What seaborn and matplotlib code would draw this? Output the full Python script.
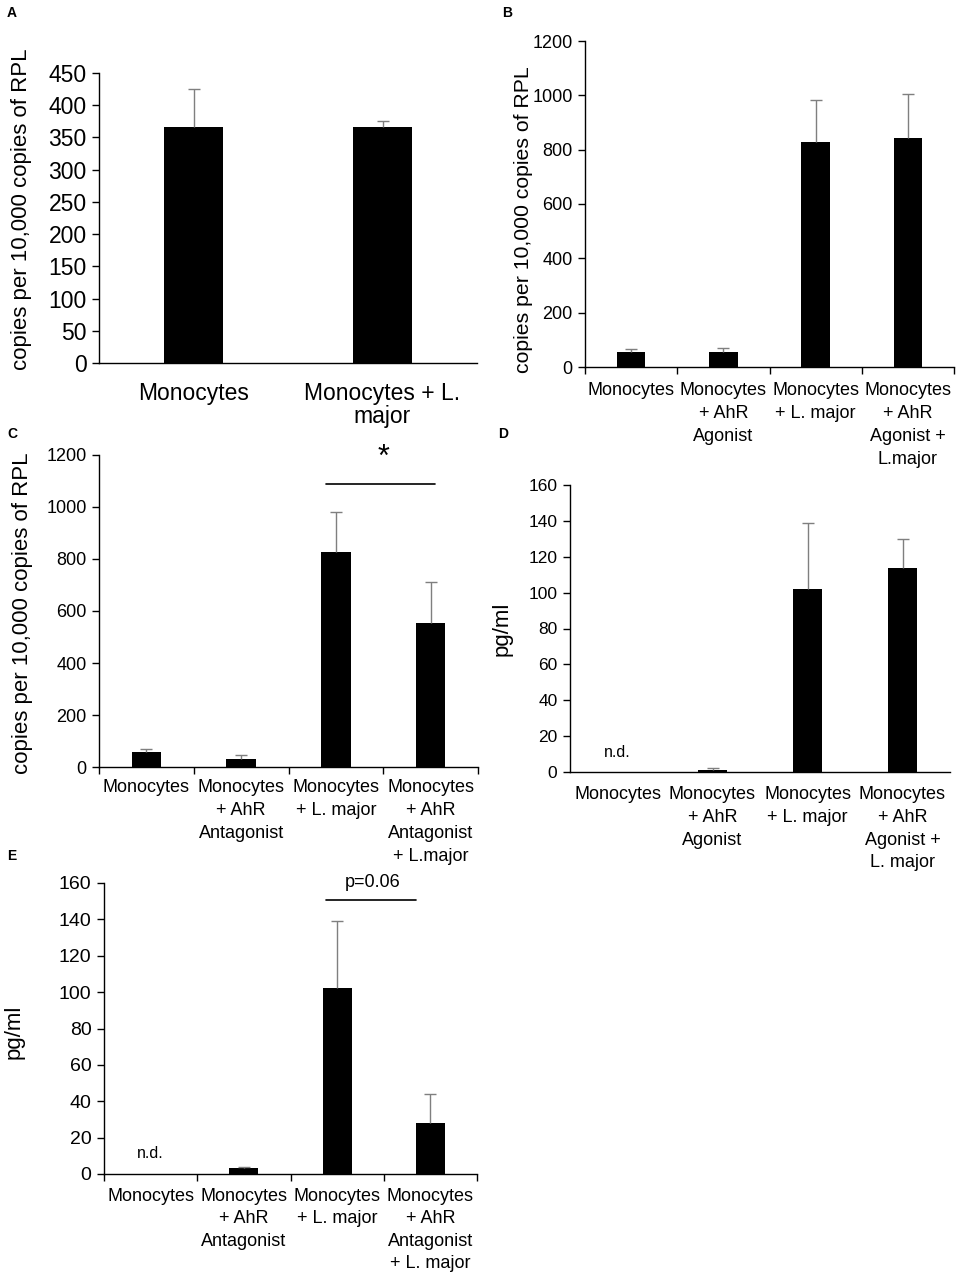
import numpy as np
import matplotlib
matplotlib.use('Agg')
import matplotlib.pyplot as plt
import seaborn as sns

# ---------- data ----------
labels_a = ['Monocytes', 'Monocytes + L.\nmajor']
mean_a = [366, 366]
err_a = [59, 10]

labels_b = ['Monocytes', 'Monocytes\n+ AhR\nAgonist', 'Monocytes\n+ L. major',
            'Monocytes\n+ AhR\nAgonist +\nL.major']
mean_b = [57, 57, 828, 844]
err_b = [8, 13, 154, 160]

labels_c = ['Monocytes', 'Monocytes\n+ AhR\nAntagonist', 'Monocytes\n+ L. major',
            'Monocytes\n+ AhR\nAntagonist\n+ L.major']
mean_c = [58, 32, 828, 554]
err_c = [10, 15, 154, 156]

labels_d = ['Monocytes', 'Monocytes\n+ AhR\nAgonist', 'Monocytes\n+ L. major',
            'Monocytes\n+ AhR\nAgonist +\nL. major']
mean_d = [0, 1, 102, 114]
err_d = [np.nan, 1.4, 36.6, 15.7]

labels_e = ['Monocytes', 'Monocytes\n+ AhR\nAntagonist', 'Monocytes\n+ L. major',
            'Monocytes\n+ AhR\nAntagonist\n+ L. major']
mean_e = [0, 3.5, 102, 28.3]
err_e = [np.nan, 0.5, 37, 15.7]

sns.set_style('ticks')
plt.rcParams['font.family'] = ['Liberation Sans', 'DejaVu Sans']
for key in ['text.color', 'axes.labelcolor', 'xtick.color', 'ytick.color', 'axes.edgecolor']:
    plt.rcParams[key] = 'black'

fig = plt.figure(figsize=(9.57, 12.75), dpi=100)


def panel(rect, labels, means, errs, ymax, ystep, ylabel, tick_fs, x_fs, ylab_fs,
          ylab_xy, boundary_ticks=True, x_pad=8, linespacing=1.45):
    ax = fig.add_axes(rect)
    sns.barplot(x=labels, y=means, color='black', width=0.31, errorbar=None,
                linewidth=0, saturation=1, ax=ax)
    n = len(labels)
    eb = ax.errorbar(np.arange(n), means, yerr=[np.zeros(n), errs], fmt='none',
                     ecolor='#7f7f7f', elinewidth=1.0, capsize=4, capthick=1.0)
    # only the upper cap is drawn in the original
    eb[1][0].set_visible(False)
    ax.set_xlim(-0.5, n - 0.5)
    ax.set_ylim(0, ymax)
    ax.set_yticks(np.arange(0, ymax + 1, ystep))
    sns.despine(ax=ax)
    for s in ['left', 'bottom']:
        ax.spines[s].set_linewidth(1.0)
    ax.tick_params(axis='y', direction='out', length=5, width=1, labelsize=tick_fs, pad=4)
    ax.tick_params(axis='x', which='major', length=0, labelsize=x_fs, pad=x_pad)
    for t in ax.get_xticklabels():
        t.set_linespacing(linespacing)
    if boundary_ticks:
        ax.set_xticks(np.arange(-0.5, n, 1.0), minor=True)
        ax.tick_params(axis='x', which='minor', direction='out', length=5, width=1)
    ax.set_xlabel('')
    ax.set_ylabel(ylabel, fontsize=ylab_fs)
    ax.yaxis.set_label_coords(*ylab_xy)
    return ax


W, H = 957, 1275


def rect(l, r, t, b):
    return [l / W, 1 - b / H, (r - l) / W, (b - t) / H]


ax_a = panel(rect(99, 477, 73, 363), labels_a, mean_a, err_a, 450, 50,
             'copies per 10,000 copies of RPL', 16.5, 16.5, 16, (-0.177, 0.529),
             boundary_ticks=False, x_pad=14, linespacing=1.0)
ax_b = panel(rect(585, 954, 41, 367), labels_b, mean_b, err_b, 1200, 200,
             'copies per 10,000 copies of RPL', 13, 13, 15.3, (-0.141, 0.451),
             x_pad=11)
ax_c = panel(rect(99, 478, 455, 767), labels_c, mean_c, err_c, 1200, 200,
             'copies per 10,000 copies of RPL', 13, 13, 16, (-0.174, 0.492),
             x_pad=9)
ax_d = panel(rect(570, 950, 485, 772), labels_d, mean_d, err_d, 160, 20,
             'pg/ml', 12.5, 13, 16, (-0.150, 0.50), boundary_ticks=False,
             x_pad=10)
ax_e = panel(rect(104, 477, 883, 1174), labels_e, mean_e, err_e, 160, 20,
             'pg/ml', 14, 13, 16, (-0.212, 0.488), x_pad=10, linespacing=1.42)

# significance marks
ax_c.plot([1.9, 3.05], [1087, 1087], color='black', lw=1.2, clip_on=False)
ax_c.text(2.5, 1190, '*', ha='center', va='center', fontsize=22)
ax_e.plot([1.88, 2.85], [150.8, 150.8], color='black', lw=1.2, clip_on=False)
ax_e.text(2.38, 160, 'p=0.06', ha='center', va='center', fontsize=13)
ax_d.text(0, 11, 'n.d.', ha='center', va='center', fontsize=11.5)
ax_e.text(0, 11.4, 'n.d.', ha='center', va='center', fontsize=11.5)

# panel letters
for letter, x, y in [('A', 7, 17), ('B', 502, 17), ('C', 7, 438),
                     ('D', 498, 438), ('E', 7, 860)]:
    fig.text(x / W, 1 - y / H, letter, fontsize=10, fontweight='bold', va='baseline')

plt.savefig('out.png', dpi=100)
